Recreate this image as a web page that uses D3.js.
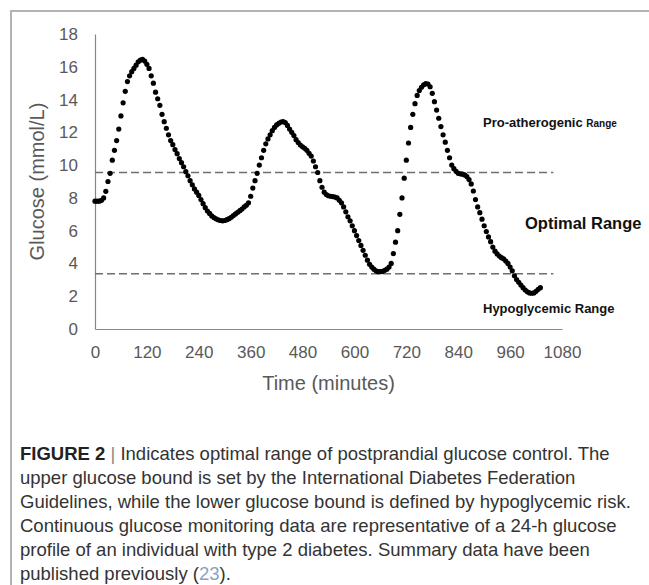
<!DOCTYPE html>
<html>
<head>
<meta charset="utf-8">
<script src="https://cdn.jsdelivr.net/npm/d3@7"></script>
<style>
  html, body { margin: 0; padding: 0; background: #fff; }
  svg { display: block; }
</style>
</head>
<body>
<svg id="chart" width="649" height="585"></svg>
<script>
// ---- data ----
const timeStep = 5; // minutes between CGM readings
const glucose = [
  7.8, 7.8, 7.8, 7.85, 8.0, 8.4, 9.0, 9.5, 10.3, 10.9,
  11.5, 12.2, 13.0, 13.8, 14.5, 15.1, 15.45, 15.7, 15.9, 16.1,
  16.3, 16.4, 16.45, 16.35, 16.15, 15.9, 15.45, 15.0, 14.45, 14.05,
  13.65, 13.1, 12.65, 12.25, 11.85, 11.5, 11.25, 10.95, 10.7, 10.4,
  10.15, 9.9, 9.6, 9.35, 9.05, 8.8, 8.55, 8.35, 8.15, 7.9,
  7.65, 7.4, 7.2, 7.05, 6.9, 6.8, 6.72, 6.66, 6.62, 6.6,
  6.62, 6.67, 6.73, 6.82, 6.92, 7.02, 7.12, 7.22, 7.32, 7.45,
  7.55, 7.7, 8.1, 8.6, 9.05, 9.5, 10.0, 10.45, 10.9, 11.3,
  11.6, 11.85, 12.1, 12.3, 12.45, 12.55, 12.63, 12.65, 12.6, 12.42,
  12.2, 12.0, 11.8, 11.55, 11.38, 11.22, 11.12, 11.03, 10.9, 10.72,
  10.55, 10.25, 9.9, 9.55, 9.05, 8.65, 8.35, 8.2, 8.13, 8.1,
  8.08, 8.05, 8.0, 7.85, 7.7, 7.45, 7.15, 6.85, 6.6, 6.3,
  6.0, 5.7, 5.4, 5.1, 4.8, 4.5, 4.2, 3.95, 3.78, 3.65,
  3.55, 3.5, 3.5, 3.52, 3.58, 3.65, 3.78, 4.0, 4.6, 5.3,
  6.0, 7.0, 8.0, 9.2, 10.3, 11.35, 12.3, 13.1, 13.75, 14.25,
  14.55, 14.75, 14.9, 14.97, 14.95, 14.78, 14.38, 13.87, 13.36, 12.86,
  12.35, 11.85, 11.4, 10.9, 10.45, 10.0, 9.78, 9.62, 9.5, 9.47,
  9.45, 9.4, 9.3, 9.12, 8.85, 8.42, 7.9, 7.45, 7.1, 6.7,
  6.3, 5.95, 5.62, 5.33, 5.0, 4.75, 4.58, 4.45, 4.35, 4.28,
  4.15, 4.0, 3.78, 3.55, 3.25, 3.02, 2.85, 2.68, 2.52, 2.38,
  2.27, 2.2, 2.18, 2.2, 2.3, 2.42, 2.52
];
const xTicks = [0, 120, 240, 360, 480, 600, 720, 840, 960, 1080];
const yTicks = [0, 2, 4, 6, 8, 10, 12, 14, 16, 18];
const upperBound = 9.55;   // dashed line (IDF guideline)
const lowerBound = 3.37;   // dashed line (hypoglycaemic risk)
const boundEnd = 1060;     // minutes where the dashed lines stop
const xTitle = "Time (minutes)";
const yTitle = "Glucose (mmol/L)";
const captionLines = [
  [{t: "FIGURE 2", b: true}, {t: " | ", bar: true}, {t: "Indicates optimal range of postprandial glucose control. The"}],
  [{t: "upper glucose bound is set by the International Diabetes Federation"}],
  [{t: "Guidelines, while the lower glucose bound is defined by hypoglycemic risk."}],
  [{t: "Continuous glucose monitoring data are representative of a 24-h glucose"}],
  [{t: "profile of an individual with type 2 diabetes. Summary data have been"}],
  [{t: "published previously ("}, {t: "23", link: true}, {t: ")."}]
];

// ---- drawing ----
const svg = d3.select("#chart");
const x = d3.scaleLinear().domain([0, 1080]).range([95, 562]);
const y = d3.scaleLinear().domain([0, 18]).range([329, 34]);

// frame (top + left border)
svg.append("path")
  .attr("d", "M11,585 L11,11 L649,11")
  .attr("fill", "none").attr("stroke", "#b3b3b3").attr("stroke-width", 2);

const axisFont = "'Liberation Sans', Arial, sans-serif";

// y axis
const gy = svg.append("g").attr("transform", `translate(${x(0)},0)`)
  .call(d3.axisLeft(y).tickValues(yTicks).tickFormat(d3.format("d")).tickSize(0).tickPadding(17));
gy.select(".domain").attr("stroke", "#868686").attr("stroke-width", 1.2);
gy.selectAll("text").attr("font-family", axisFont).attr("font-size", 17).attr("fill", "#595959");

// x axis
const gx = svg.append("g").attr("transform", `translate(0,${y(0)})`)
  .call(d3.axisBottom(x).tickValues(xTicks).tickFormat(d3.format("d")).tickSize(0).tickPadding(17));
gx.select(".domain").attr("stroke", "#868686").attr("stroke-width", 1.2);
gx.selectAll("text").attr("font-family", axisFont).attr("font-size", 17).attr("fill", "#595959");

// dashed bounds
[upperBound, lowerBound].forEach(v => {
  svg.append("line")
    .attr("x1", x(0)).attr("x2", x(boundEnd))
    .attr("y1", y(v)).attr("y2", y(v))
    .attr("stroke", "#6e6e6e").attr("stroke-width", 1.3)
    .attr("stroke-dasharray", "8,4");
});

// dots
svg.append("g").selectAll("circle")
  .data(glucose)
  .join("circle")
  .attr("cx", (d, i) => x(i * timeStep))
  .attr("cy", d => y(d))
  .attr("r", 2.6)
  .attr("fill", "#000");

// axis titles
svg.append("text")
  .attr("transform", `translate(44,${(y(0) + y(18)) / 2}) rotate(-90)`)
  .attr("text-anchor", "middle")
  .attr("font-family", axisFont).attr("font-size", 20).attr("fill", "#595959")
  .text(yTitle);
svg.append("text")
  .attr("x", (x(0) + x(1080)) / 2).attr("y", 390)
  .attr("text-anchor", "middle")
  .attr("font-family", axisFont).attr("font-size", 20).attr("fill", "#595959")
  .text(xTitle);

// range labels
const pro = svg.append("text").attr("x", 483).attr("y", 127)
  .attr("font-family", axisFont).attr("font-weight", "bold").attr("fill", "#111");
pro.append("tspan").attr("font-size", 13).text("Pro-atherogenic ");
pro.append("tspan").attr("font-size", 10).text("Range");
svg.append("text").attr("x", 525).attr("y", 229)
  .attr("font-family", axisFont).attr("font-weight", "bold").attr("font-size", 16.5).attr("fill", "#111")
  .text("Optimal Range");
svg.append("text").attr("x", 483).attr("y", 313)
  .attr("font-family", axisFont).attr("font-weight", "bold").attr("font-size", 13).attr("fill", "#111")
  .text("Hypoglycemic Range");

// caption
const cap = svg.append("g");
captionLines.forEach((line, i) => {
  const t = cap.append("text").attr("x", 20).attr("y", 460 + i * 24)
    .attr("font-family", axisFont).attr("font-size", 18.5).attr("fill", "#333");
  line.forEach(seg => {
    const s = t.append("tspan").text(seg.t);
    if (seg.b) s.attr("font-weight", "bold").attr("fill", "#222");
    if (seg.bar) s.attr("fill", "#888");
    if (seg.link) s.attr("fill", "#8aa2bf");
  });
});
</script>
</body>
</html>
